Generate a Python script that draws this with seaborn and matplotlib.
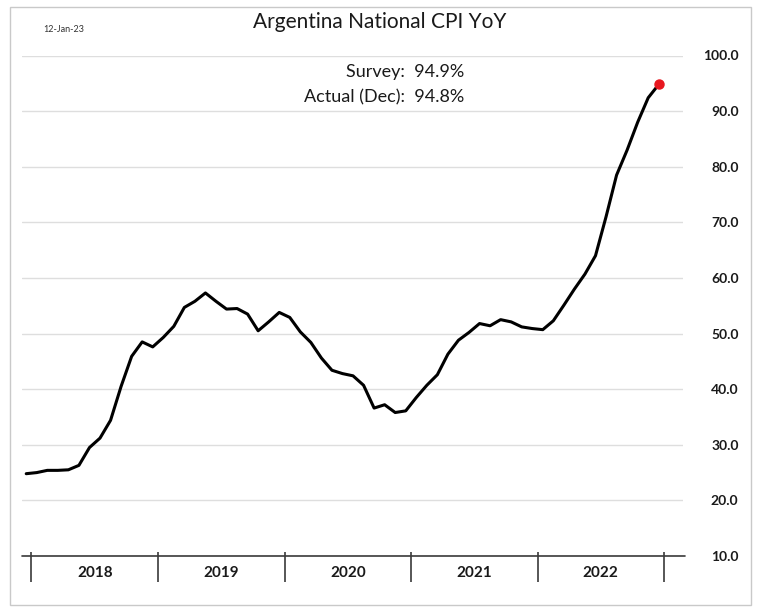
import matplotlib
matplotlib.use("Agg")
import matplotlib.pyplot as plt
import matplotlib.transforms as mtransforms
from matplotlib.patches import Rectangle
import seaborn as sns
import pandas as pd
import numpy as np

# ---- data (monthly, Dec 2017 .. Dec 2022) ----
cpi_2017 = [24.8]
cpi_2018 = [25.0, 25.4, 25.4, 25.5, 26.3, 29.5, 31.2, 34.4, 40.5, 45.9, 48.5, 47.6]
cpi_2019 = [49.3, 51.3, 54.7, 55.8, 57.3, 55.8, 54.4, 54.5, 53.5, 50.5, 52.1, 53.8]
cpi_2020 = [52.9, 50.3, 48.4, 45.6, 43.4, 42.8, 42.4, 40.7, 36.6, 37.2, 35.8, 36.1]
cpi_2021 = [38.5, 40.7, 42.6, 46.3, 48.8, 50.2, 51.8, 51.4, 52.5, 52.1, 51.2, 50.9]
cpi_2022 = [50.7, 52.3, 55.1, 58.0, 60.7, 64.0, 71.0, 78.5, 83.0, 88.0, 92.4, 94.8]
years = ["2018", "2019", "2020", "2021", "2022"]
y_ticks = [10, 20, 30, 40, 50, 60, 70, 80, 90, 100]
title = "Argentina National CPI YoY"
date_stamp = "12-Jan-23"
survey_text = "Survey:  94.9%"
actual_text = "Actual (Dec):  94.8%"

values = cpi_2017 + cpi_2018 + cpi_2019 + cpi_2020 + cpi_2021 + cpi_2022
df = pd.DataFrame({"t": np.arange(len(values)), "cpi": values})

sns.set_theme(style="white")
plt.rcParams["font.family"] = ["Lato", "DejaVu Sans"]

W, H = 758, 614
fig = plt.figure(figsize=(W / 100, H / 100), dpi=100)
fig.patch.set_facecolor("white")

# outer frame
fig.patches.append(Rectangle((10 / W, 1 - 605 / H), 741 / W, 598 / H,
                             transform=fig.transFigure, fill=False,
                             edgecolor="#c9c9c9", lw=1.0, zorder=0))

ax = fig.add_axes([22 / W, 1 - 556 / H, (683 - 22) / W, (556 - 55.5) / H])
ax.set_facecolor("white")

sns.lineplot(data=df, x="t", y="cpi", ax=ax, color="black", lw=2.2, zorder=3)
ax.plot(df["t"].iloc[-1], df["cpi"].iloc[-1], "o", color="#e8171f",
        markersize=6.5, zorder=4)

ax.set_xlim(-0.4, 62.3)
ax.set_ylim(10, 100)

for s in ["top", "left", "right", "bottom"]:
    ax.spines[s].set_visible(False)

# gridlines
ax.set_yticks(y_ticks)
ax.yaxis.grid(True, color="#dedede", lw=1.0)
ax.set_axisbelow(True)
ax.yaxis.tick_right()
ax.set_yticklabels([f"{v:.1f}" for v in y_ticks], fontsize=10, fontweight="bold",
                   color="#1a1a1a", ha="right")
ax.tick_params(axis="y", length=0, pad=40)

# x axis: year labels centered in each year
centers = [6.5 + 12 * i for i in range(len(years))]
ax.set_xticks(centers)
ax.set_xticklabels(years, fontsize=11, fontweight="bold", color="#1a1a1a")
ax.tick_params(axis="x", length=0, pad=7)
ax.set_xlabel("")
ax.set_ylabel("")

# axis line and year separators
trans = mtransforms.blended_transform_factory(ax.transData, ax.transAxes)
ax.plot([-0.4, 62.5], [0, 0], transform=trans, color="#3a3a3a", lw=1.2,
        clip_on=False, zorder=2)
seps = [0.5 + 12 * i for i in range(len(years) + 1)]
ax.vlines(seps, -0.052, 0.008, transform=trans, color="#3a3a3a", lw=1.2,
          clip_on=False, zorder=2)

# texts
fig.text(380 / W, 1 - 22 / H, title, ha="center", va="center", fontsize=15,
         color="#1a1a1a")
fig.text(43 / W, 1 - 30 / H, date_stamp, ha="left", va="center", fontsize=6.5,
         color="#333333")
fig.text(464 / W, 1 - 72 / H, survey_text, ha="right", va="center",
         fontsize=13, color="#1a1a1a")
fig.text(464 / W, 1 - 97 / H, actual_text, ha="right", va="center",
         fontsize=13, color="#1a1a1a")

fig.savefig("out.png", dpi=100)
